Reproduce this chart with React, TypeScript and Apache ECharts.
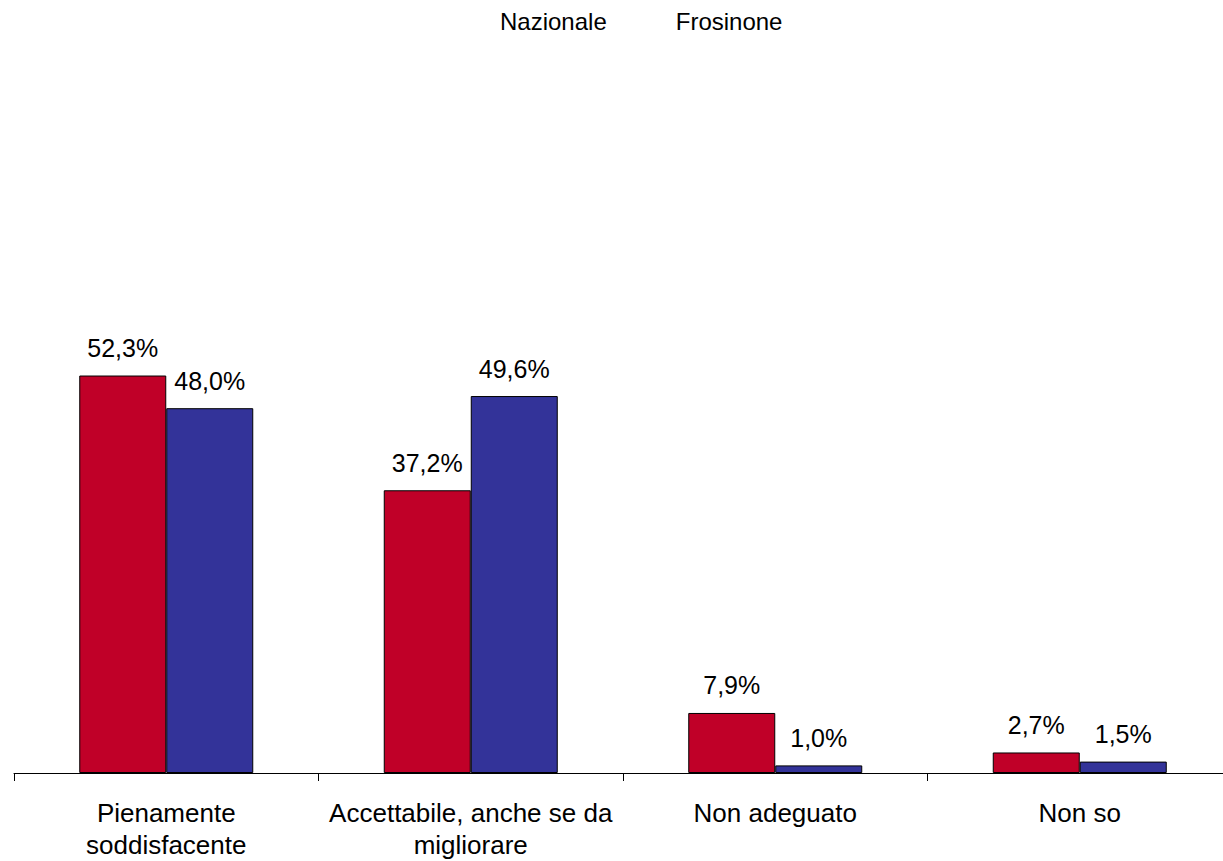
import React, { useEffect, useRef } from "react";
import * as echarts from "echarts";

const categories = [
  "Pienamente\nsoddisfacente",
  "Accettabile, anche se da\nmigliorare",
  "Non adeguato",
  "Non so",
];
const seriesNames = ["Nazionale", "Frosinone"];
const nazionale = [52.3, 37.2, 7.9, 2.7];
const frosinone = [48.0, 49.6, 1.0, 1.5];
const colors = ["#C00028", "#333399"];

const fmt = (p: any) => p.value.toFixed(1).replace(".", ",") + "%";

export default function App() {
  const ref = useRef<HTMLDivElement>(null);
  useEffect(() => {
    if (!ref.current) return;
    const chart = echarts.init(ref.current, null, { renderer: "svg" });
    const labelStyle = {
      show: true,
      position: "top" as const,
      distance: 15,
      formatter: fmt,
      fontFamily: "Liberation Sans, Arial, sans-serif",
      fontSize: 25,
      color: "#000",
    };
    chart.setOption({
      animation: false,
      backgroundColor: "#fff",
      textStyle: { fontFamily: "Liberation Sans, Arial, sans-serif" },
      legend: {
        data: seriesNames.map((n) => ({ name: n, icon: "rect" })),
        left: 489,
        top: 4,
        itemWidth: 0,
        itemHeight: 0,
        itemGap: 63,
        textStyle: { fontSize: 24, color: "#000", fontFamily: "Liberation Sans, Arial, sans-serif" },
        selectedMode: false,
      },
      grid: {
        left: 14,
        top: 13,
        width: 1218,
        bottom: 88,
        outerBoundsMode: "none",
        containLabel: false,
      },
      xAxis: {
        type: "category",
        data: categories,
        axisLine: { lineStyle: { color: "#000", width: 1 } },
        axisTick: { show: true, length: 8, lineStyle: { color: "#000" } },
        axisLabel: {
          color: "#000",
          fontSize: 26,
          lineHeight: 32,
          margin: 24,
          interval: 0,
          fontFamily: "Liberation Sans, Arial, sans-serif",
        },
      },
      yAxis: {
        type: "value",
        min: 0,
        max: 100,
        show: false,
        splitLine: { show: false },
      },
      series: [
        {
          name: seriesNames[0],
          type: "bar",
          data: nazionale,
          barWidth: 87,
          barGap: "0%",
          itemStyle: { color: colors[0], borderColor: "#000", borderWidth: 1 },
          label: labelStyle,
        },
        {
          name: seriesNames[1],
          type: "bar",
          data: frosinone,
          barWidth: 87,
          barGap: "0%",
          itemStyle: { color: colors[1], borderColor: "#000", borderWidth: 1 },
          label: labelStyle,
        },
      ],
    });
    return () => chart.dispose();
  }, []);
  return (
    <div
      ref={ref}
      style={{ position: "fixed", left: 0, top: 0, width: 1223, height: 861, background: "#fff" }}
    />
  );
}
